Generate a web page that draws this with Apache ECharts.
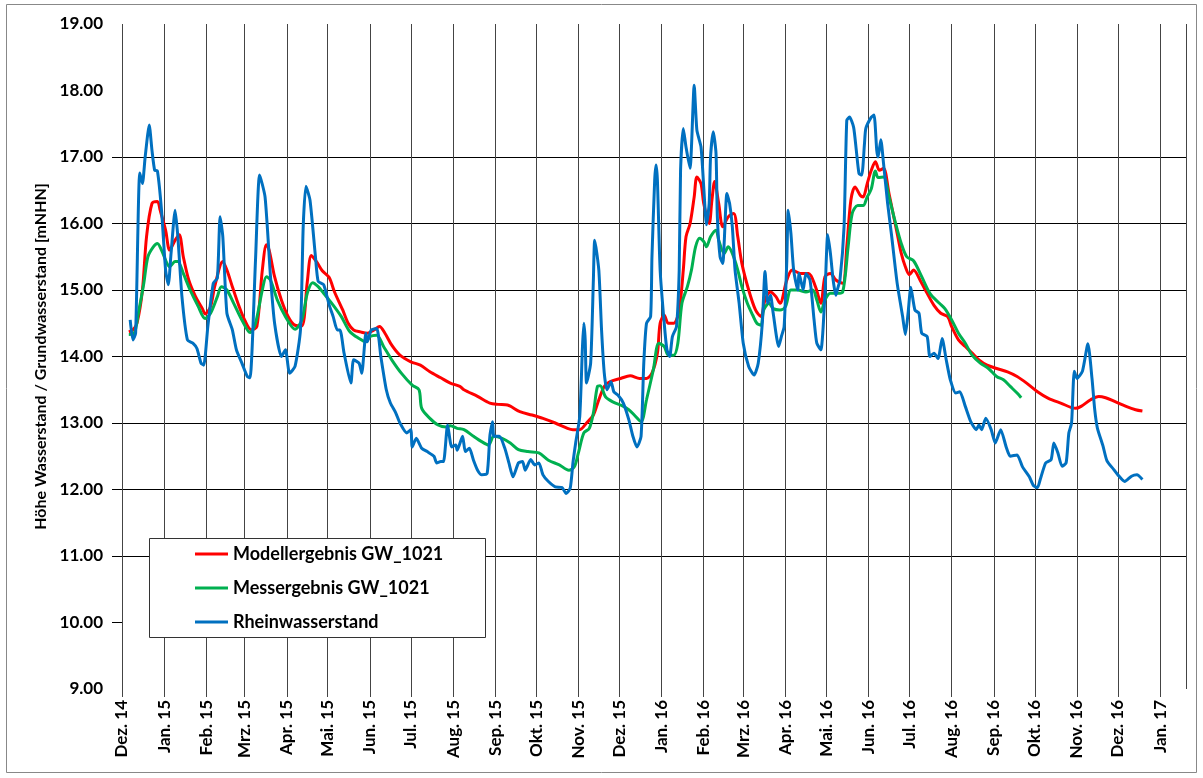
<!DOCTYPE html>
<html lang="de">
<head>
<meta charset="UTF-8">
<title>Wasserstand GW_1021</title>
<script src="https://cdn.jsdelivr.net/npm/echarts@6/dist/echarts.min.js"></script>
<style>
  html, body { margin: 0; padding: 0; background: #fff; }
  #chart { width: 1203px; height: 778px; }
</style>
</head>
<body>
<div id="chart"></div>
<script>
// Tage seit 01.12.2014 und Werte in mNHN
var monthNames = ['Jan.', 'Feb.', 'Mrz.', 'Apr.', 'Mai.', 'Jun.', 'Jul.', 'Aug.', 'Sep.', 'Okt.', 'Nov.', 'Dez.'];
var yTicks = [9, 10, 11, 12, 13, 14, 15, 16, 17, 18, 19];
var yTickMarks = [10, 11, 12, 13, 14, 15, 16, 17];
var seriesNames = ['Modellergebnis GW_1021', 'Messergebnis GW_1021', 'Rheinwasserstand'];

var modellDays = [5, 8, 11, 15, 18, 22, 26, 28, 32, 35, 39, 42, 45, 49, 54, 59, 61, 65, 68, 74, 77, 81, 86, 90, 95, 99,
  103, 106, 108, 112, 117, 122, 127, 132, 136, 139, 143, 147, 152, 156, 162, 166, 170, 175, 180, 185, 189, 193, 198,
  204, 212, 219, 226, 234, 241, 248, 251, 261, 270, 276, 283, 292, 301, 309, 318, 327, 331, 336, 341, 346, 350, 354,
  358, 366, 373, 380, 385, 389, 393, 395, 398, 401, 405, 409, 412, 414, 417, 420, 422, 425, 427, 431, 433, 435, 438,
  441, 445, 449, 452, 455, 460, 465, 469, 472, 476, 480, 483, 488, 492, 498, 504, 509, 513, 516, 520, 524, 529, 532,
  535, 538, 542, 544, 547, 550, 553, 556, 559, 563, 566, 569, 572, 575, 578, 581, 586, 591, 596, 601, 606, 609, 614,
  619, 624, 629, 635, 642, 650, 657, 664, 672, 680, 689, 700, 704, 711, 717, 722, 729, 737, 744, 749];
var modellVals = [14.37, 14.4, 14.5, 15.0, 15.8, 16.3, 16.33, 16.2, 15.9, 15.6, 15.75, 15.83, 15.5, 15.15, 14.9, 14.72,
  14.64, 14.75, 15.05, 15.43, 15.3, 15.05, 14.75, 14.55, 14.4, 14.45, 15.3, 15.68, 15.6, 15.2, 14.85, 14.6, 14.47,
  14.46, 15.12, 15.52, 15.42, 15.29, 15.19, 14.97, 14.7, 14.5, 14.4, 14.37, 14.35, 14.4, 14.45, 14.35, 14.17, 14.02,
  13.92, 13.87, 13.77, 13.68, 13.6, 13.55, 13.5, 13.4, 13.3, 13.28, 13.27, 13.17, 13.12, 13.07, 13.0, 12.92, 12.9,
  12.9, 13.0, 13.12, 13.35, 13.55, 13.62, 13.67, 13.71, 13.67, 13.67, 13.75, 14.05, 14.5, 14.62, 14.5, 14.5, 14.7,
  15.3, 15.8, 16.0, 16.4, 16.7, 16.6, 16.3, 16.0, 16.35, 16.63, 16.3, 15.95, 16.1, 16.15, 15.8, 15.4, 15.0, 14.7,
  14.6, 14.85, 14.97, 14.9, 14.8, 15.15, 15.3, 15.25, 15.25, 15.05, 14.8, 15.2, 15.25, 15.15, 15.1, 15.65, 16.35,
  16.55, 16.42, 16.4, 16.6, 16.8, 16.93, 16.8, 16.83, 16.45, 16.15, 15.85, 15.55, 15.35, 15.23, 15.3, 15.14, 14.95,
  14.77, 14.65, 14.6, 14.45, 14.25, 14.15, 14.05, 13.95, 13.87, 13.82, 13.77, 13.7, 13.6, 13.47, 13.37, 13.3, 13.22,
  13.25, 13.35, 13.4, 13.38, 13.32, 13.25, 13.2, 13.18];

var messDays = [5, 9, 12, 16, 19, 23, 26, 29, 33, 35, 39, 41, 45, 50, 56, 61, 65, 70, 73, 77, 82, 88, 94, 98, 103, 106,
  109, 114, 120, 127, 132, 136, 140, 144, 148, 154, 161, 167, 174, 179, 182, 187, 192, 198, 205, 213, 218, 220, 226,
  232, 238, 241, 246, 251, 258, 264, 269, 273, 279, 285, 291, 298, 306, 313, 321, 328, 332, 335, 339, 343, 346, 349,
  351, 355, 361, 367, 372, 376, 381, 385, 390, 394, 398, 401, 405, 408, 411, 415, 418, 421, 424, 427, 429, 432, 436,
  438, 442, 445, 448, 452, 455, 459, 463, 466, 469, 471, 475, 478, 483, 487, 491, 496, 502, 507, 510, 513, 516, 520,
  525, 529, 533, 536, 540, 544, 547, 550, 553, 555, 559, 563, 567, 572, 576, 581, 587, 593, 600, 604, 609, 614, 619,
  624, 630, 636, 642, 647, 652, 657, 660];
var messVals = [14.33, 14.35, 14.65, 15.1, 15.5, 15.65, 15.7, 15.6, 15.4, 15.35, 15.43, 15.43, 15.25, 15.0, 14.75,
  14.57, 14.65, 14.9, 15.05, 15.0, 14.8, 14.55, 14.36, 14.5, 15.0, 15.2, 15.15, 14.85, 14.6, 14.41, 14.55, 14.95,
  15.11, 15.05, 14.95, 14.8, 14.6, 14.38, 14.27, 14.22, 14.3, 14.32, 14.15, 13.95, 13.75, 13.57, 13.5, 13.22, 13.07,
  12.97, 12.94, 12.96, 12.92, 12.9, 12.8, 12.72, 12.67, 12.8, 12.77, 12.7, 12.6, 12.57, 12.55, 12.44, 12.37, 12.29,
  12.34, 12.55, 12.85, 12.92, 13.15, 13.55, 13.56, 13.39, 13.31, 13.26, 13.2, 13.12, 13.02, 13.35, 13.8, 14.2, 14.15,
  14.02, 14.02, 14.2, 14.8, 15.05, 15.3, 15.65, 15.78, 15.73, 15.65, 15.8, 15.9, 15.75, 15.55, 15.65, 15.55, 15.3,
  15.05, 14.8, 14.62, 14.5, 14.47, 14.7, 14.8, 14.72, 14.7, 14.75, 15.0, 15.0, 14.97, 15.0, 14.85, 14.67, 14.85,
  14.95, 14.95, 14.97, 15.65, 16.15, 16.27, 16.27, 16.4, 16.52, 16.79, 16.69, 16.7, 16.4, 16.07, 15.7, 15.5, 15.44,
  15.2, 14.95, 14.8, 14.72, 14.55, 14.35, 14.2, 14.02, 13.9, 13.82, 13.7, 13.65, 13.55, 13.45, 13.38];

var rheinDays = [6, 8, 10, 13, 15, 17, 20, 22, 24, 26, 29, 32, 34, 36, 39, 41, 44, 48, 52, 55, 58, 60, 63, 67, 70, 72,
  74, 77, 81, 84, 88, 92, 94, 98, 101, 105, 109, 112, 117, 120, 123, 127, 131, 133, 135, 138, 142, 144, 148, 152, 155,
  158, 160, 163, 168, 170, 174, 176, 179, 180, 183, 187, 190, 194, 197, 201, 204, 209, 212, 213, 216, 220, 224, 229,
  231, 234, 236, 239, 242, 245, 246, 250, 252, 255, 258, 261, 264, 268, 270, 272, 273, 277, 281, 284, 287, 291, 294,
  296, 300, 303, 306, 309, 313, 318, 323, 326, 329, 331, 333, 336, 338, 339, 340, 341, 344, 346, 347, 350, 352, 354,
  356, 359, 361, 364, 368, 372, 375, 378, 381, 383, 385, 388, 389, 391, 392, 393, 395, 398, 400, 402, 404, 407, 409,
  410, 412, 414, 417, 418, 420, 422, 425, 427, 429, 431, 432, 434, 436, 437, 439, 441, 442, 444, 446, 448, 450, 453,
  456, 460, 464, 467, 470, 472, 474, 476, 478, 482, 484, 486, 488, 489, 491, 493, 496, 497, 500, 502, 505, 508, 510,
  513, 516, 518, 520, 522, 524, 525, 527, 530, 532, 534, 537, 539, 541, 543, 545, 546, 550, 552, 554, 555, 557, 559,
  562, 565, 569, 573, 575, 577, 579, 582, 585, 587, 591, 593, 596, 599, 602, 605, 608, 612, 615, 619, 623, 627, 629,
  631, 634, 638, 641, 645, 649, 652, 657, 661, 666, 669, 672, 674, 678, 682, 684, 687, 690, 693, 695, 697, 699, 701,
  705, 709, 712, 714, 716, 720, 723, 728, 731, 736, 741, 745, 749];
var rheinVals = [14.55, 14.25, 14.35, 16.76, 16.6, 17.0, 17.48, 17.1, 16.8, 16.79, 16.2, 15.3, 15.08, 15.55, 16.2,
  15.8, 14.9, 14.25, 14.2, 14.12, 13.9, 13.87, 14.45, 15.1, 15.18, 16.1, 15.8, 14.65, 14.4, 14.1, 13.9, 13.7, 13.68,
  15.45, 16.73, 16.4, 15.2, 14.5, 14.0, 14.1, 13.75, 13.85, 14.4, 15.95, 16.56, 16.35, 15.5, 15.13, 15.08, 14.78,
  14.6, 14.4, 14.4, 14.05, 13.6, 13.95, 13.9, 13.75, 14.35, 14.22, 14.4, 14.42, 14.0, 13.5, 13.3, 13.15, 13.0,
  12.85, 12.9, 12.64, 12.77, 12.62, 12.57, 12.5, 12.4, 12.42, 12.42, 12.97, 12.64, 12.67, 12.59, 12.8, 12.57, 12.62,
  12.44, 12.29, 12.22, 12.24, 12.8, 13.02, 12.8, 12.8, 12.62, 12.4, 12.19, 12.4, 12.42, 12.29, 12.45, 12.37, 12.4,
  12.22, 12.12, 12.04, 12.03, 11.94, 12.02, 12.4, 12.7, 13.1, 14.15, 14.5, 14.25, 13.6, 13.9, 15.15, 15.75, 15.3,
  14.4, 13.75, 13.5, 13.62, 13.47, 13.42, 13.3, 13.05, 12.8, 12.64, 12.8, 13.9, 14.5, 14.6, 15.5, 16.65, 16.88,
  16.65, 15.3, 14.5, 14.1, 14.0, 14.3, 14.45, 15.3, 16.8, 17.43, 17.15, 16.83, 17.15, 18.08, 17.4, 17.15, 16.55,
  15.98, 16.3, 17.0, 17.38, 17.06, 16.1, 15.5, 15.4, 15.7, 16.45, 16.3, 15.95, 15.3, 14.8, 14.2, 13.85, 13.72, 13.9,
  14.5, 15.28, 14.8, 14.92, 14.65, 14.15, 14.3, 14.45, 15.45, 16.2, 15.85, 15.3, 15.0, 15.25, 15.0, 15.25, 15.15,
  14.55, 14.2, 14.1, 14.95, 15.83, 15.55, 15.15, 14.92, 15.0, 15.15, 15.95, 17.55, 17.6, 17.45, 17.1, 16.75, 16.73,
  17.2, 17.43, 17.6, 17.63, 17.1, 17.0, 17.26, 16.9, 16.3, 15.8, 15.1, 14.6, 14.33, 14.65, 15.04, 14.7, 14.65,
  14.35, 14.3, 14.0, 14.05, 13.97, 14.27, 13.95, 13.65, 13.45, 13.47, 13.25, 13.02, 12.9, 12.97, 12.9, 13.07, 12.9,
  12.7, 12.9, 12.64, 12.5, 12.52, 12.34, 12.19, 12.06, 12.03, 12.15, 12.4, 12.45, 12.7, 12.55, 12.35, 12.4, 12.85,
  13.0, 13.78, 13.67, 13.78, 14.19, 13.67, 13.2, 12.92, 12.66, 12.43, 12.3, 12.22, 12.12, 12.2, 12.22, 12.15];

function dayToDate(d) {
    return new Date(2014, 11, 1 + d);
}
function pairs(days, vals) {
    return days.map(function (d, i) { return [dayToDate(d), vals[i]]; });
}

var font = 'Lato, "Open Sans", sans-serif';
// nur die Linien 10 bis 17 sind im Original sichtbar
var hLineColors = yTicks.map(function (v) {
    return (v >= 10 && v <= 17) ? '#000' : 'rgba(0,0,0,0)';
});

var myChart = echarts.init(document.getElementById('chart'));
var option = {
    backgroundColor: '#fff',
    animation: false,
    grid: { left: 122, top: 24, right: 17, bottom: 89, containLabel: false },
    xAxis: {
        type: 'time',
        min: dayToDate(0),
        max: dayToDate(781),
        minInterval: 28 * 24 * 3600 * 1000,
        maxInterval: 31 * 24 * 3600 * 1000,
        axisLine: { show: false },
        axisTick: { show: true, length: 8, lineStyle: { color: '#444' } },
        splitLine: { show: true, lineStyle: { color: '#444', width: 1 } },
        axisLabel: {
            rotate: 90,
            margin: 11,
            color: '#000',
            fontFamily: font,
            fontWeight: 'bold',
            fontSize: 17,
            showMaxLabel: false,
            formatter: function (value) {
                var d = new Date(value);
                var yy = String(d.getFullYear()).slice(2);
                return monthNames[d.getMonth()] + ' ' + yy;
            }
        }
    },
    yAxis: {
        type: 'value',
        min: 9,
        max: 19,
        interval: 1,
        name: 'Höhe Wasserstand / Grundwasserstand [mNHN]',
        nameLocation: 'middle',
        nameGap: 68,
        nameTextStyle: { color: '#000', fontFamily: font, fontWeight: 'bold', fontSize: 16 },
        axisLine: { show: false },
        axisTick: { show: true, length: 10, customValues: yTickMarks, lineStyle: { color: '#000' } },
        splitLine: { show: true, lineStyle: { color: hLineColors, width: 1 } },
        axisLabel: {
            margin: 19,
            color: '#000',
            fontFamily: font,
            fontWeight: 'bold',
            fontSize: 17,
            customValues: yTicks,
            formatter: function (v) { return v.toFixed(2); }
        }
    },
    legend: {
        orient: 'vertical',
        left: 195,
        top: 545,
        icon: 'rect',
        itemWidth: 33,
        itemHeight: 3,
        itemGap: 16,
        padding: 0,
        z: 20,
        textStyle: { color: '#000', fontFamily: font, fontWeight: 'bold', fontSize: 18 },
        data: seriesNames
    },
    graphic: [
        {
            type: 'rect', z: 10,
            shape: { x: 149.5, y: 538.5, width: 336, height: 99 },
            style: { fill: '#fff', stroke: '#333', lineWidth: 1 }
        },
        {
            type: 'rect', z: 10,
            shape: { x: 6.5, y: 4.5, width: 1190, height: 768 },
            style: { fill: 'none', stroke: '#888', lineWidth: 1 }
        }
    ],
    series: [
        {
            name: seriesNames[0], type: 'line', symbol: 'none', smooth: 0.3,
            lineStyle: { color: '#ff0000', width: 3 }, itemStyle: { color: '#ff0000' },
            data: pairs(modellDays, modellVals)
        },
        {
            name: seriesNames[1], type: 'line', symbol: 'none', smooth: 0.3,
            lineStyle: { color: '#00b050', width: 3 }, itemStyle: { color: '#00b050' },
            data: pairs(messDays, messVals)
        },
        {
            name: seriesNames[2], type: 'line', symbol: 'none', smooth: 0.2,
            lineStyle: { color: '#0070c0', width: 3 }, itemStyle: { color: '#0070c0' },
            data: pairs(rheinDays, rheinVals)
        }
    ]
};
myChart.setOption(option);
</script>
</body>
</html>
